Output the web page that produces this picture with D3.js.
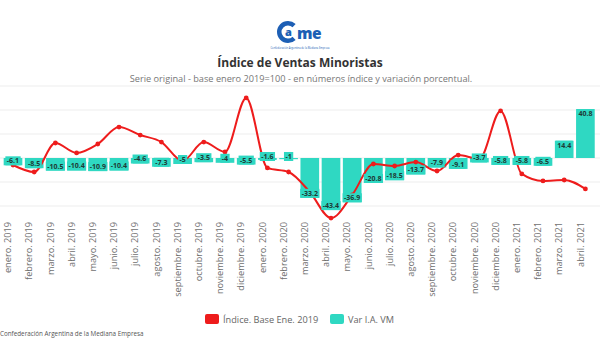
<!DOCTYPE html>
<html><head><meta charset="utf-8">
<script src="https://cdn.jsdelivr.net/npm/d3@7"></script>
<style>body{margin:0;background:#fff}svg{display:block}</style>
</head><body><svg id="c" width="600" height="360"></svg>
<script>
const months = [
  "enero. 2019","febrero. 2019","marzo. 2019","abril. 2019","mayo. 2019","junio. 2019",
  "julio. 2019","agosto. 2019","septiembre. 2019","octubre. 2019","noviembre. 2019","diciembre. 2019",
  "enero. 2020","febrero. 2020","marzo. 2020","abril. 2020","mayo. 2020","junio. 2020",
  "julio. 2020","agosto. 2020","septiembre. 2020","octubre. 2020","noviembre. 2020","diciembre. 2020",
  "enero. 2021","febrero. 2021","marzo. 2021","abril. 2021"];
const varIA = [-6.1,-8.5,-10.5,-10.4,-10.9,-10.4,-4.6,-7.3,-5,-3.5,-4,-5.5,
  -1.6,-1,-33.2,-43.4,-36.9,-20.8,-18.5,-13.7,-7.9,-9.1,-3.7,-5.8,
  -5.8,-6.5,14.4,40.8];
const indice = [100,95.0,115.7,108.6,115.0,127.1,121.4,116.4,102.9,116.4,109.3,147.9,
  97.9,95.0,80.7,62.1,78.6,100.7,99.3,102.1,95.7,107.1,104.3,138.6,
  93.6,88.6,89.3,82.9];
const varTicks = [-40,-20,0,20,40,60];
const seriesNames = ["Índice. Base Ene. 2019","Var I.A. VM"];
const RED = "#ee1c1c", TEAL = "#2fd8c2";

const svg = d3.select("#c");
const FONT = "'Open Sans', 'Noto Sans', sans-serif";

// ---- Logo ----
const logo = svg.append("g").attr("fill", "#1d5fb5");
logo.append("path")
  .attr("d", d3.arc()({innerRadius: 6.5, outerRadius: 11, startAngle: 0.8, endAngle: 2*Math.PI - 0.8}))
  .attr("transform", "translate(288,32) rotate(90)");
logo.append("text").attr("x", 288.5).attr("y", 36).attr("text-anchor", "middle")
  .attr("font-family", FONT).attr("font-weight", 800).attr("font-size", 11).text("a");
logo.append("text").attr("x", 297).attr("y", 38.5).attr("font-family", FONT)
  .attr("font-weight", 800).attr("font-size", 15.5).attr("letter-spacing", -0.5).text("me");
logo.append("text").attr("x", 300).attr("y", 49).attr("text-anchor", "middle")
  .attr("font-family", FONT).attr("font-size", 2.6).text("Confederación Argentina de la Mediana Empresa");

// ---- Titles ----
svg.append("text").attr("x", 300).attr("y", 67).attr("text-anchor", "middle")
  .attr("font-family", FONT).attr("font-weight", 700).attr("font-size", 12)
  .attr("fill", "#333").text("Índice de Ventas Minoristas");
svg.append("text").attr("x", 301).attr("y", 82).attr("text-anchor", "middle")
  .attr("font-family", FONT).attr("font-size", 9.2)
  .attr("fill", "#777").text("Serie original - base enero 2019=100 - en números índice y variación porcentual.");

// ---- Scales ----
const x = d3.scaleBand().domain(months).range([2.4, 596]).paddingInner(0.12).paddingOuter(0.06);
const yBar = d3.scaleLinear().domain([-50, 60]).range([218, 86]);
const yIdx = d3.scaleLinear().domain([62.14, 156.43]).range([218, 86]);
const cx = d => x(d) + x.bandwidth()/2;

// gridlines
svg.append("g").selectAll("line").data(varTicks).join("line")
  .attr("x1", 0).attr("x2", 600)
  .attr("y1", d => yBar(d)).attr("y2", d => yBar(d))
  .attr("stroke", "#ededed").attr("stroke-width", 1);

// bars
const data = months.map((m, i) => ({m, v: varIA[i], idx: indice[i]}));
svg.append("g").selectAll("rect").data(data).join("rect")
  .attr("x", d => x(d.m)).attr("width", x.bandwidth())
  .attr("y", d => Math.min(yBar(0), yBar(d.v)))
  .attr("height", d => Math.abs(yBar(d.v) - yBar(0)))
  .attr("fill", TEAL);

// line
svg.append("path").datum(data)
  .attr("fill", "none").attr("stroke", RED).attr("stroke-width", 2)
  .attr("d", d3.line().x(d => cx(d.m)).y(d => yIdx(d.idx)).curve(d3.curveMonotoneX));
svg.append("g").selectAll("circle").data(data).join("circle")
  .attr("cx", d => cx(d.m)).attr("cy", d => yIdx(d.idx)).attr("r", 2.4).attr("fill", RED);

// bar labels with teal background
const lbl = svg.append("g").selectAll("g").data(data).join("g");
lbl.append("text")
  .attr("x", d => cx(d.m))
  .attr("y", d => d.v < 0 ? Math.max(yBar(d.v), yBar(0) + 3) - 4.5 : yBar(d.v) + 4.5)
  .attr("dy", "0.35em").attr("text-anchor", "middle")
  .attr("font-family", FONT).attr("font-weight", 700).attr("font-size", 7)
  .attr("fill", "#1e3a36")
  .text(d => String(d.v));
lbl.each(function(d) {
  const g = d3.select(this), t = g.select("text");
  const w = t.node().getComputedTextLength() + 3;
  const top = d.v < 0 ? Math.max(yBar(d.v), yBar(0) + 3) - 9 : yBar(d.v);
  g.insert("rect", "text").attr("x", cx(d.m) - w/2).attr("y", top)
    .attr("width", w).attr("height", 9).attr("fill", TEAL);
});

// x axis
const ax = svg.append("g").attr("transform", "translate(0,218)")
  .call(d3.axisBottom(x).tickSize(0));
ax.select(".domain").remove();
ax.selectAll("text")
  .attr("font-family", FONT).attr("font-size", 9.2).attr("fill", "#6f6f6f")
  .attr("text-anchor", "end")
  .attr("transform", "rotate(-90)")
  .attr("x", -4).attr("y", -5).attr("dy", "0.35em");

// legend
const leg = svg.append("g").attr("font-family", FONT).attr("font-size", 9.2).attr("fill", "#666");
leg.append("rect").attr("x", 205).attr("y", 314).attr("width", 14).attr("height", 10).attr("rx", 2).attr("fill", RED);
leg.append("text").attr("x", 223).attr("y", 322.5).text(seriesNames[0]);
leg.append("rect").attr("x", 330).attr("y", 314).attr("width", 14).attr("height", 10).attr("rx", 2).attr("fill", TEAL);
leg.append("text").attr("x", 348).attr("y", 322.5).text(seriesNames[1]);

// footer
svg.append("text").attr("x", 0).attr("y", 336).attr("font-family", FONT)
  .attr("font-size", 6.3).attr("fill", "#555").text("Confederación Argentina de la Mediana Empresa");
</script></body></html>
